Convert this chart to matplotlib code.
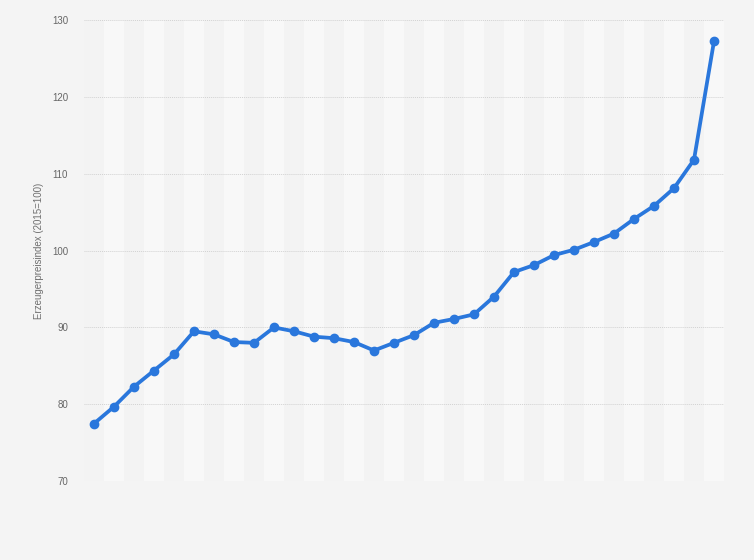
import matplotlib
matplotlib.use("Agg")
import matplotlib.pyplot as plt
import numpy as np

plt.rcParams['font.family'] = ['Liberation Sans', 'DejaVu Sans']

# Erzeugerpreisindex (2015=100), 32 Jahre
values = [77.5, 79.7, 82.3, 84.4, 86.5, 89.5, 89.1, 88.1, 88.0, 90.0,
          89.5, 88.8, 88.6, 88.1, 87.0, 88.0, 89.0, 90.6, 91.1, 91.7,
          94.0, 97.2, 98.1, 99.4, 100.1, 101.1, 102.2, 104.1, 105.8, 108.1,
          111.8, 127.2]
yticks = [70, 80, 90, 100, 110, 120, 130]
ylabel = "Erzeugerpreisindex (2015=100)"

x = np.arange(len(values))

fig = plt.figure(figsize=(7.54, 5.6), dpi=100, facecolor='#f4f4f4')
ax = fig.add_axes([84/754, (560-481.3)/560, 640/754, (481.3-19.7)/560])
ax.set_facecolor('#f3f3f3')

# alternating column bands
for i in x:
    if i % 2 == 1:
        ax.axvspan(i-0.5, i+0.5, color='#f8f8f8', zorder=0, lw=0)

for t in yticks:
    ax.axhline(t, color='#d2d2d2', lw=0.7, ls=(0, (1, 1)), zorder=1)

ax.plot(x, values, color='#2a77dc', lw=2.7, marker='o', markersize=6,
        zorder=3, solid_capstyle='round')

ax.set_xlim(-0.5, len(values)-0.5)
ax.set_ylim(70, 130)
ax.set_yticks(yticks)
ax.set_xticks([])
ax.tick_params(axis='y', length=0, pad=11.5, labelsize=7, labelcolor='#666666')
for s in ax.spines.values():
    s.set_visible(False)

fig.text(39/754, 1-251/560, ylabel, rotation=90, ha='center', va='center',
         fontsize=7, color='#707070')

fig.savefig('out.png', dpi=100, facecolor=fig.get_facecolor())
